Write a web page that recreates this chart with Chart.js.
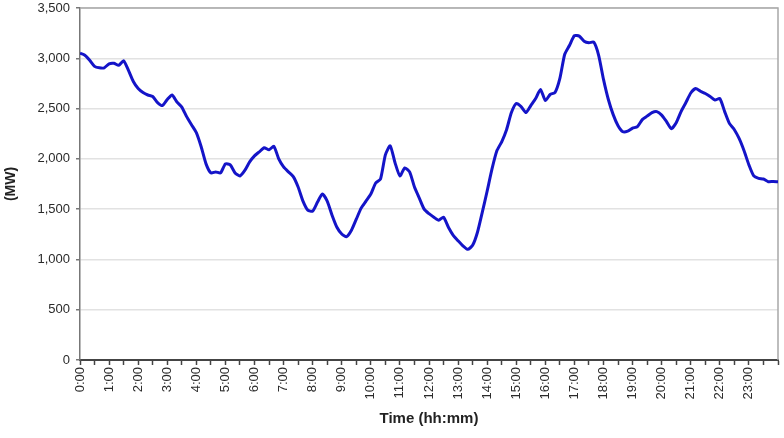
<!DOCTYPE html>
<html lang="en">

<head>
  <meta charset="UTF-8">
  <meta name="viewport" content="width=device-width, initial-scale=1.0">
  <title>Load Curve</title>
  <script src="https://cdn.jsdelivr.net/npm/chart.js"></script>
  <style>
    html, body { margin: 0; padding: 0; background: #fff; }
    #wrap { width: 784px; height: 438px; }
  </style>
</head>

<body>
  <div id="wrap"><canvas id="chart"></canvas></div>

  <script>
    // load in MW, one reading every 10 minutes from 0:00 to 24:00
    const stepMinutes = 10;
    const loadMW = [
      3050, 3030, 2980, 2920, 2905, 2905, 2945, 2950, 2930, 2975,
      2880, 2770, 2700, 2660, 2635, 2620, 2560, 2530, 2590, 2635,
      2565, 2515, 2420, 2340, 2260, 2120, 1950, 1860, 1870, 1860,
      1950, 1940, 1860, 1830, 1885, 1970, 2030, 2070, 2110, 2090,
      2125, 2000, 1920, 1870, 1823, 1720, 1580, 1490, 1480, 1570,
      1650, 1580, 1440, 1320, 1253, 1226, 1290, 1400, 1510, 1580,
      1650, 1760, 1800, 2040, 2130, 1960, 1830, 1910, 1870, 1720,
      1610, 1500, 1455, 1420, 1390, 1420, 1320, 1240, 1185, 1135,
      1100, 1140, 1270, 1470, 1680, 1900, 2080, 2170, 2290, 2460,
      2550, 2520, 2460, 2530, 2600, 2690, 2580, 2640, 2660, 2800,
      3040, 3130, 3225, 3220, 3170, 3155, 3160, 3030, 2790, 2590,
      2440, 2330, 2270, 2275, 2305, 2320, 2390, 2425, 2460, 2470,
      2435, 2370, 2300, 2360, 2470, 2560, 2655, 2700, 2672, 2650,
      2620, 2585, 2600, 2470, 2350, 2290, 2200, 2080, 1940, 1830,
      1806, 1800, 1773, 1775, 1773
    ];
    const hourLabels = [
      '0:00', '1:00', '2:00', '3:00', '4:00', '5:00', '6:00', '7:00',
      '8:00', '9:00', '10:00', '11:00', '12:00', '13:00', '14:00', '15:00',
      '16:00', '17:00', '18:00', '19:00', '20:00', '21:00', '22:00', '23:00'
    ];
    const yTicks = [0, 500, 1000, 1500, 2000, 2500, 3000, 3500];

    const textColor = '#2a2a2a';
    const fontFamily = 'Arial, "Liberation Sans", sans-serif';

    // light frame on the top and right of the plot area
    const frame = {
      id: 'frame',
      beforeDatasetsDraw(chart) {
        const { ctx, chartArea: a } = chart;
        ctx.save();
        ctx.strokeStyle = '#a8a8a8';
        ctx.lineWidth = 1.5;
        ctx.beginPath();
        ctx.moveTo(a.left, a.top);
        ctx.lineTo(a.right, a.top);
        ctx.lineTo(a.right, a.bottom);
        ctx.stroke();
        ctx.restore();
      }
    };

    function createLineChart() {
      const points = loadMW.map((v, i) => ({ x: i * stepMinutes / 60, y: v }));
      const ctx = document.getElementById('chart').getContext('2d');

      new Chart(ctx, {
        type: 'line',
        data: {
          datasets: [{
            data: points,
            borderColor: '#1414c8',
            borderWidth: 3,
            pointRadius: 0,
            tension: 0.2,
            fill: false
          }]
        },
        options: {
          responsive: true,
          maintainAspectRatio: false,
          animation: false,
          events: [],
          layout: { padding: { top: 8, right: 6, bottom: 0, left: 0 } },
          plugins: { legend: { display: false }, tooltip: { enabled: false } },
          scales: {
            x: {
              type: 'linear',
              min: 0,
              max: 24,
              afterFit: (s) => {
                s.height = 78;
                s.paddingLeft = 0;
                s.paddingRight = 0;
              },
              afterBuildTicks: (s) => {
                const t = [];
                for (let h = 0; h <= 24; h += 0.5) t.push({ value: h });
                s.ticks = t;
              },
              ticks: {
                autoSkip: false,
                maxRotation: 90,
                minRotation: 90,
                padding: 2,
                color: textColor,
                font: { family: fontFamily, size: 13 },
                callback: (v) => (Number.isInteger(v) && v < 24 ? hourLabels[v] : '')
              },
              grid: { drawOnChartArea: false, tickLength: 5, tickColor: '#444', tickWidth: 1.5 },
              border: { display: true, color: '#444', width: 2 },
              title: {
                display: true,
                text: 'Time (hh:mm)',
                color: '#222',
                font: { family: fontFamily, size: 15, weight: 'bold' },
                padding: { top: 4, bottom: 10 }
              }
            },
            y: {
              min: 0,
              max: 3500,
              afterFit: (s) => {
                s.width = 80;
                s.paddingTop = 0;
                s.paddingBottom = 0;
              },
              afterBuildTicks: (s) => { s.ticks = yTicks.map((v) => ({ value: v })); },
              ticks: {
                padding: 6,
                color: textColor,
                font: { family: fontFamily, size: 13 },
                callback: (v) => v.toLocaleString('en-US')
              },
              grid: { color: '#e2e2e2', lineWidth: 1.5, tickLength: 4, tickColor: '#777' },
              border: { display: true, color: '#777', width: 1.5 },
              title: {
                display: true,
                text: '(MW)',
                color: '#222',
                font: { family: fontFamily, size: 14, weight: 'bold' },
                padding: { top: 3, bottom: 0 }
              }
            }
          }
        },
        plugins: [frame]
      });
    }

    createLineChart();
  </script>
</body>

</html>
